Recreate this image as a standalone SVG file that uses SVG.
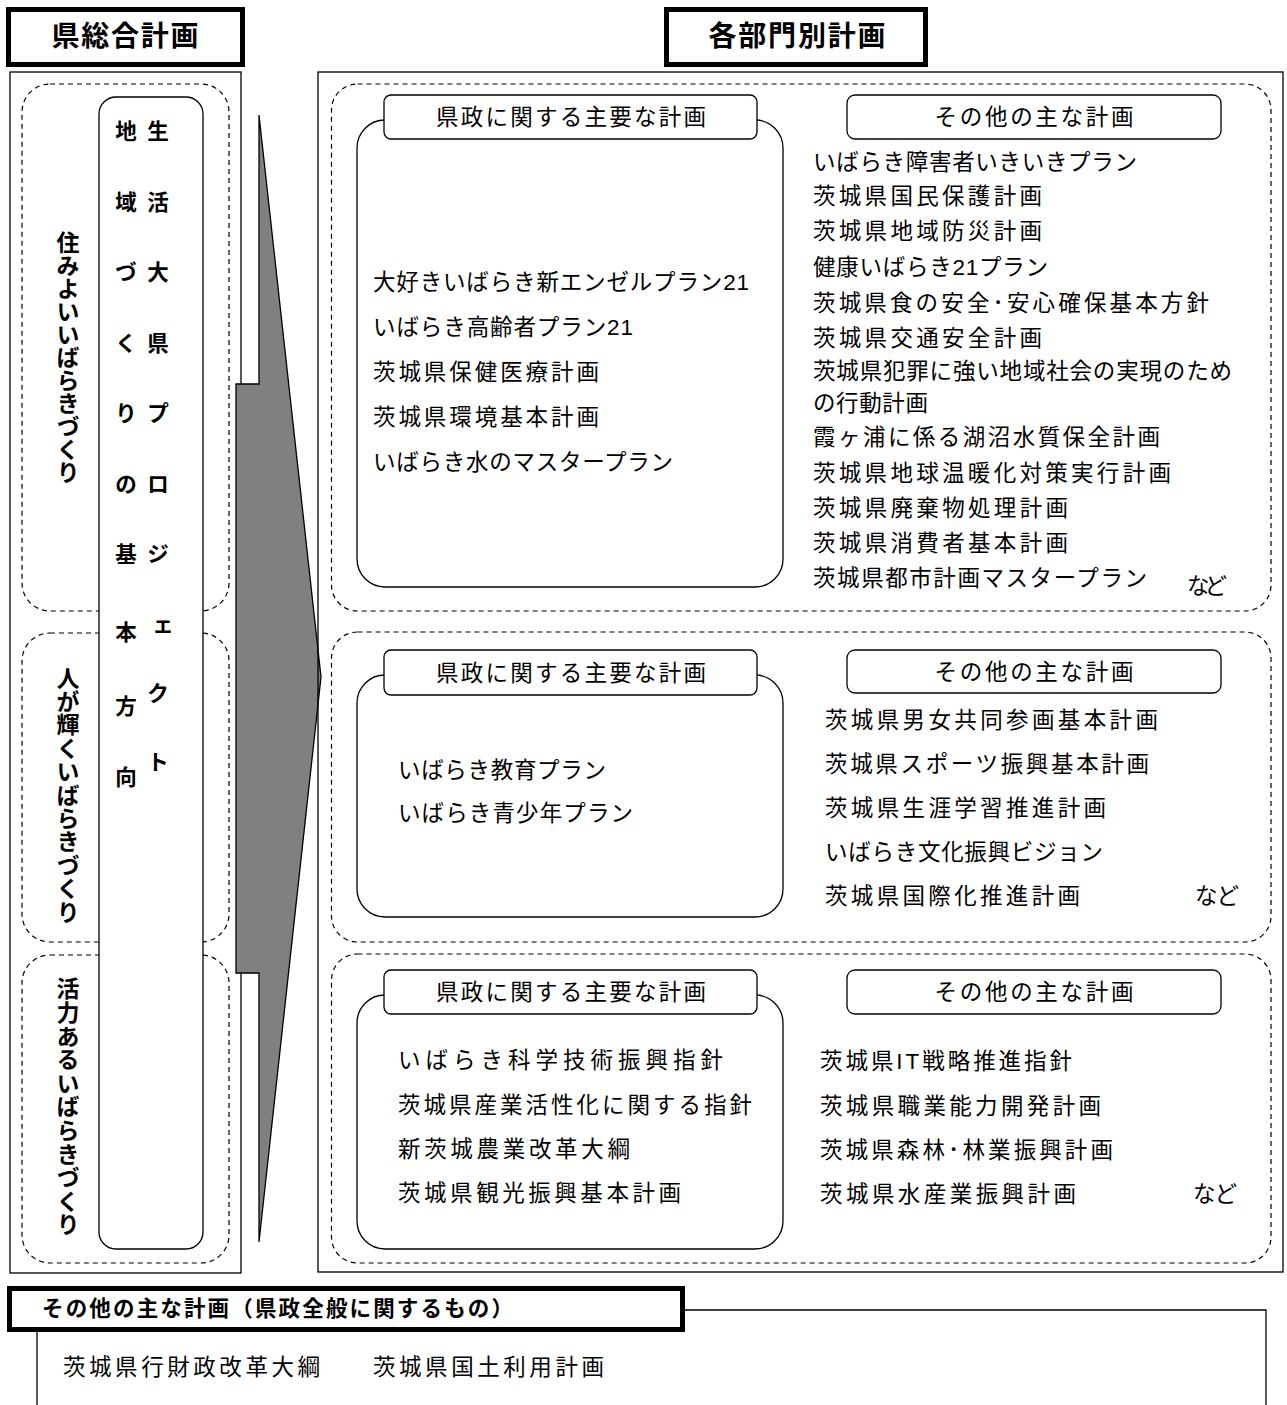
<svg xmlns="http://www.w3.org/2000/svg" width="1287" height="1405" viewBox="0 0 1287 1405">
<style>
.t{font-family:"Liberation Sans","Noto Sans CJK JP",sans-serif;font-size:22.5px;fill:#000}
.b{font-family:"Liberation Sans","Noto Sans CJK JP",sans-serif;font-weight:bold;fill:#000}
.thin{fill:none;stroke:#000;stroke-width:1.3}
.dash{fill:none;stroke:#000;stroke-width:1.2;stroke-dasharray:5 4}
.thick{fill:#fff;stroke:#000;stroke-width:5}
.body{fill:#fff;stroke:#000;stroke-width:1.3}
.vt{writing-mode:vertical-rl;font-size:23px}
</style>
<rect width="1287" height="1405" fill="#fff"/>

<g id="title-left">
<rect class="thick" x="8.5" y="9.5" width="234" height="55"/>
<text class="b" x="125" y="46" font-size="28" text-anchor="middle" textLength="147" lengthAdjust="spacing">県総合計画</text>
</g>
<g id="title-right">
<rect class="thick" x="666.5" y="9.5" width="259" height="55"/>
<text class="b" x="797" y="46" font-size="28" text-anchor="middle" textLength="177" lengthAdjust="spacing">各部門別計画</text>
</g>

<g id="left-panel">
<rect class="thin" x="10" y="72" width="231" height="1201"/>
<rect class="dash" x="22" y="84" width="207" height="527" rx="28"/>
<rect class="dash" x="22" y="633" width="207" height="309" rx="28"/>
<rect class="dash" x="22" y="955" width="207" height="308" rx="28"/>
<text class="b vt" x="66" y="357" text-anchor="middle" letter-spacing="0">住みよいいばらきづくり</text>
<text class="b vt" x="66" y="795" text-anchor="middle" letter-spacing="0.4">人が輝くいばらきづくり</text>
<text class="b vt" x="66" y="1107" text-anchor="middle" letter-spacing="0.6">活力あるいばらきづくり</text>
</g>

<g id="column">
<rect x="99" y="97" width="104" height="1152" rx="17" fill="#fff" stroke="#000" stroke-width="1.3"/>
<text class="b" font-size="21.5" text-anchor="middle" x="158 158 158 158 158 158 158 163 158 158" y="139 209.5 280 350.5 421 491.5 562 632 701 770">生活大県プロジェクト</text>
<text class="b" font-size="21.5" text-anchor="middle" x="126 126 126 126 126 126 126 126 126 126" y="139 209.5 280 350.5 421 491.5 562 640 714 785">地域づくりの基本方向</text>
</g>

<g id="arrow">
<polygon points="259,115 321,677 259,1242 259,973 236,973 236,384 259,384" fill="#808080" stroke="#000" stroke-width="1.3" stroke-linejoin="miter"/>
</g>

<g id="right-panel">
<rect class="thin" x="318" y="72" width="965" height="1200"/>
<rect class="dash" x="331.5" y="84" width="939.5" height="527" rx="26"/>
<rect class="dash" x="331.5" y="632" width="939.5" height="310" rx="26"/>
<rect class="dash" x="331.5" y="954" width="939.5" height="309" rx="26"/>
</g>

<g id="group1">
<rect class="body" x="357" y="120" width="426" height="467" rx="28"/>
<rect class="body" x="384" y="95" width="373" height="44" rx="7"/>
<text class="t" x="571" y="125" text-anchor="middle" textLength="270" lengthAdjust="spacing">県政に関する主要な計画</text>
<text class="t" x="373" y="290" textLength="376" lengthAdjust="spacing">大好きいばらき新エンゼルプラン21</text>
<text class="t" x="373" y="335" textLength="260" lengthAdjust="spacing">いばらき高齢者プラン21</text>
<text class="t" x="373" y="380" textLength="226" lengthAdjust="spacing">茨城県保健医療計画</text>
<text class="t" x="373" y="425" textLength="226" lengthAdjust="spacing">茨城県環境基本計画</text>
<text class="t" x="373" y="470" textLength="300" lengthAdjust="spacing">いばらき水のマスタープラン</text>
<rect class="body" x="847" y="95" width="374" height="44" rx="8"/>
<text class="t" x="1034" y="125" text-anchor="middle" textLength="199" lengthAdjust="spacing">その他の主な計画</text>
<text class="t" x="813" y="170" textLength="324" lengthAdjust="spacing">いばらき障害者いきいきプラン</text>
<text class="t" x="813" y="203.5" textLength="229" lengthAdjust="spacing">茨城県国民保護計画</text>
<text class="t" x="813" y="239" textLength="229" lengthAdjust="spacing">茨城県地域防災計画</text>
<text class="t" x="813" y="274.5" textLength="235" lengthAdjust="spacing">健康いばらき21プラン</text>
<text class="t" x="813" y="311" textLength="396" lengthAdjust="spacing">茨城県食の安全･安心確保基本方針</text>
<text class="t" x="813" y="345.5" textLength="229" lengthAdjust="spacing">茨城県交通安全計画</text>
<text class="t" x="813" y="378.5" textLength="419" lengthAdjust="spacing">茨城県犯罪に強い地域社会の実現のため</text>
<text class="t" x="813" y="410.5" textLength="115" lengthAdjust="spacing">の行動計画</text>
<text class="t" x="813" y="444.5" textLength="347" lengthAdjust="spacing">霞ヶ浦に係る湖沼水質保全計画</text>
<text class="t" x="813" y="480.5" textLength="358" lengthAdjust="spacing">茨城県地球温暖化対策実行計画</text>
<text class="t" x="813" y="516" textLength="255" lengthAdjust="spacing">茨城県廃棄物処理計画</text>
<text class="t" x="813" y="550.5" textLength="255" lengthAdjust="spacing">茨城県消費者基本計画</text>
<text class="t" x="813" y="585.5" textLength="334" lengthAdjust="spacing">茨城県都市計画マスタープラン</text>
<text class="t" x="1187" y="593.5" textLength="40" lengthAdjust="spacing">など</text>
</g>

<g id="group2">
<rect class="body" x="357" y="675" width="426" height="242" rx="28"/>
<rect class="body" x="384" y="650" width="373" height="45" rx="7"/>
<text class="t" x="571" y="681" text-anchor="middle" textLength="270" lengthAdjust="spacing">県政に関する主要な計画</text>
<text class="t" x="398" y="778" textLength="208" lengthAdjust="spacing">いばらき教育プラン</text>
<text class="t" x="398" y="821" textLength="235" lengthAdjust="spacing">いばらき青少年プラン</text>
<rect class="body" x="847" y="650" width="374" height="43" rx="8"/>
<text class="t" x="1034" y="680" text-anchor="middle" textLength="199" lengthAdjust="spacing">その他の主な計画</text>
<text class="t" x="825" y="728" textLength="333" lengthAdjust="spacing">茨城県男女共同参画基本計画</text>
<text class="t" x="825" y="772" textLength="324" lengthAdjust="spacing">茨城県スポーツ振興基本計画</text>
<text class="t" x="825" y="816" textLength="281" lengthAdjust="spacing">茨城県生涯学習推進計画</text>
<text class="t" x="825" y="860" textLength="278" lengthAdjust="spacing">いばらき文化振興ビジョン</text>
<text class="t" x="825" y="904" textLength="255" lengthAdjust="spacing">茨城県国際化推進計画</text>
<text class="t" x="1195" y="904" textLength="44" lengthAdjust="spacing">など</text>
</g>

<g id="group3">
<rect class="body" x="357" y="995" width="426" height="254" rx="28"/>
<rect class="body" x="384" y="970" width="373" height="44" rx="7"/>
<text class="t" x="571" y="1000" text-anchor="middle" textLength="270" lengthAdjust="spacing">県政に関する主要な計画</text>
<text class="t" x="398" y="1068" textLength="325" lengthAdjust="spacing">いばらき科学技術振興指針</text>
<text class="t" x="398" y="1113" textLength="354" lengthAdjust="spacing">茨城県産業活性化に関する指針</text>
<text class="t" x="398" y="1157" textLength="232" lengthAdjust="spacing">新茨城農業改革大綱</text>
<text class="t" x="398" y="1201" textLength="283" lengthAdjust="spacing">茨城県観光振興基本計画</text>
<rect class="body" x="847" y="970" width="374" height="44" rx="8"/>
<text class="t" x="1034" y="1000" text-anchor="middle" textLength="199" lengthAdjust="spacing">その他の主な計画</text>
<text class="t" x="820" y="1069" textLength="252" lengthAdjust="spacing">茨城県IT戦略推進指針</text>
<text class="t" x="820" y="1114" textLength="281" lengthAdjust="spacing">茨城県職業能力開発計画</text>
<text class="t" x="820" y="1158" textLength="293" lengthAdjust="spacing">茨城県森林･林業振興計画</text>
<text class="t" x="820" y="1202" textLength="256" lengthAdjust="spacing">茨城県水産業振興計画</text>
<text class="t" x="1193" y="1202" textLength="44" lengthAdjust="spacing">など</text>
</g>

<g id="connectors">
<polyline class="thin" points="683,1310 1266,1310 1266,1405"/>
<line class="thin" x1="37" y1="1331" x2="37" y2="1405"/>
</g>

<g id="general-plans">
<rect class="thick" x="9.5" y="1288.5" width="673" height="41"/>
<text class="b" x="42" y="1316" font-size="21.5" textLength="471" lengthAdjust="spacing">その他の主な計画（県政全般に関するもの）</text>
<text class="t" x="63" y="1375" textLength="257" lengthAdjust="spacing">茨城県行財政改革大綱</text>
<text class="t" x="373" y="1375" textLength="231" lengthAdjust="spacing">茨城県国土利用計画</text>
</g>
</svg>
